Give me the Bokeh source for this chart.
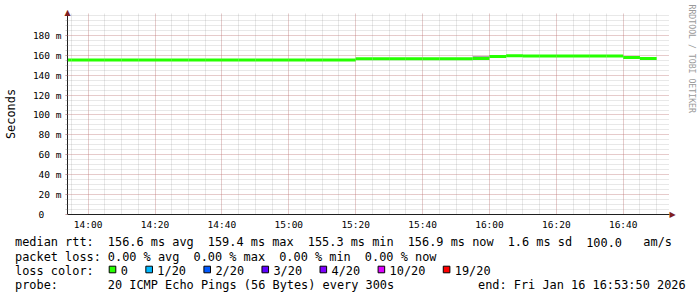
import datetime as dt
from math import pi

from bokeh.plotting import figure
from bokeh.layouts import column
from bokeh.models import (FixedTicker, Label, ColumnDataSource, Range1d,
                          DatetimeTickFormatter)
from bokeh.core.properties import value
from bokeh.embed import file_html
from bokeh.resources import INLINE

# ---------------- data ----------------
DAY = (2026, 1, 16)
STEP_S = 300  # every 300s

bucket_start = ["13:50", "13:55",
                "14:00", "14:05", "14:10", "14:15", "14:20", "14:25",
                "14:30", "14:35", "14:40", "14:45", "14:50", "14:55",
                "15:00", "15:05", "15:10", "15:15", "15:20", "15:25",
                "15:30", "15:35", "15:40", "15:45", "15:50", "15:55",
                "16:00", "16:05", "16:10", "16:15", "16:20", "16:25",
                "16:30", "16:35", "16:40", "16:45"]
median_ms = [155.3, 155.3,
             155.3, 155.3, 155.3, 155.3, 155.3, 155.3,
             155.3, 155.3, 155.3, 155.3, 155.3, 155.3,
             155.3, 155.3, 155.3, 155.3, 156.4, 156.6,
             156.6, 156.6, 156.6, 156.6, 156.6, 156.7,
             158.9, 159.6, 159.4, 159.4, 159.4, 159.2,
             159.2, 159.2, 157.9, 156.9]

smoke_start = ["15:55"]
smoke_low_ms = [158.2]
smoke_high_ms = [159.2]

range_start = "13:53:50"
range_end = "16:53:50"

x_tick_labels = ["14:00", "14:20", "14:40", "15:00", "15:20", "15:40",
                 "16:00", "16:20", "16:40"]
y_tick_values = [0, 20, 40, 60, 80, 100, 120, 140, 160, 180]
y_tick_labels = ["0\u00a0\u00a0\u00a0", "20 m", "40 m", "60 m", "80 m",
                 "100 m", "120 m", "140 m", "160 m", "180 m"]
y_top_ms = 202

loss_labels = ["0", "1/20", "2/20", "3/20", "4/20", "10/20", "19/20"]
loss_colors = ["#26ff00", "#00b8ff", "#0059ff", "#5e00ff", "#7e00ff",
               "#dd00ff", "#ff0000"]

legend_rows = [
    [("median rtt:", 0), ("156.6 ms avg", 13), ("159.4 ms max", 27),
     ("155.3 ms min", 41), ("156.9 ms now", 55), ("1.6 ms sd", 69),
     ("100.0", 80), ("am/s", 88)],
    [("packet loss:", 0), ("0.00 % avg", 13), ("0.00 % max", 25),
     ("0.00 % min", 37), ("0.00 % now", 49)],
    [("loss color:", 0)],
    [("probe:", 0), ("20 ICMP Echo Pings (56 Bytes) every 300s", 13)],
]
end_text = "end: Fri Jan 16 16:53:50 2026"
watermark = "RRDTOOL / TOBI OETIKER"


def t(hm):
    parts = [int(v) for v in hm.split(":")]
    while len(parts) < 3:
        parts.append(0)
    return dt.datetime(*DAY, *parts)


def ms(d):
    return (d - dt.datetime(1970, 1, 1)).total_seconds() * 1000.0


x0 = [t(s) for s in bucket_start]
x1 = [d + dt.timedelta(seconds=STEP_S) for d in x0]

# ---------------- layout constants ----------------
W, H = 697, 297
L, R, T, B = 67, 669, 13, 215   # frame edges on canvas
H1 = 232                        # height of the chart part
MONO = "DejaVu Sans Mono"
FS = "11.9px"
CW = 7.14
TX0 = 14.5
ROW_BASE = [244.7, 259.0, 273.3, 287.6]
TEXT_SHIFT = 3.0                # text glyphs render slightly low
AXIS_COL = "#1f1f1f"
ARROW_COL = "#801f1f"

p = figure(width=W, height=H1, x_axis_type="datetime",
           output_backend="svg", toolbar_location=None,
           x_range=Range1d(t(range_start), t(range_end)),
           y_range=Range1d(0, y_top_ms),
           min_border_left=L, min_border_right=W - R,
           min_border_top=T, min_border_bottom=H1 - B)
p.frame_align = False
p.outline_line_color = None
p.background_fill_color = "white"
p.border_fill_color = "white"

# ticks & grid
x_major = [ms(t(s)) for s in x_tick_labels]
x_minor = [ms(d) for d in x0] + [ms(x1[-1])]
p.xaxis.ticker = FixedTicker(ticks=x_major, minor_ticks=x_minor)
p.xaxis.formatter = DatetimeTickFormatter(minutes="%H:%M", hourmin="%H:%M",
                                          hours="%H:%M", minsec="%H:%M")
p.yaxis.ticker = FixedTicker(ticks=y_tick_values,
                             minor_ticks=list(range(0, y_top_ms + 1, 5)))
p.yaxis.major_label_overrides = {v: s for v, s in zip(y_tick_values, y_tick_labels)}

for ax in (p.xaxis, p.yaxis):
    ax.axis_line_color = AXIS_COL
    ax.axis_line_width = 1
    ax.major_label_text_font = MONO
    ax.major_label_text_font_size = "9.5px"
    ax.major_label_text_color = "black"

p.xaxis.major_tick_line_color = None
p.xaxis.minor_tick_line_color = None
p.xaxis.major_tick_out = 0
p.xaxis.major_tick_in = 0
p.xaxis.minor_tick_out = 0
p.xaxis.minor_tick_in = 0
p.xaxis.major_label_standoff = 4

p.yaxis.major_tick_out = 2
p.yaxis.major_tick_in = 0
p.yaxis.minor_tick_out = 2
p.yaxis.minor_tick_in = 0
p.yaxis.major_tick_line_color = (222, 79, 79, 0.5)
p.yaxis.minor_tick_line_color = (143, 143, 143, 0.45)
p.yaxis.major_label_standoff = 4
p.yaxis.axis_label = "Seconds"
p.yaxis.axis_label_text_font = MONO
p.yaxis.axis_label_text_font_size = FS
p.yaxis.axis_label_text_font_style = "normal"
p.yaxis.axis_label_text_color = "black"
p.yaxis.axis_label_standoff = 12

for g in (p.xgrid, p.ygrid):
    g.grid_line_color = (222, 79, 79)
    g.grid_line_alpha = 0.38
    g.grid_line_dash = "1 1"
    g.minor_grid_line_color = (143, 143, 143)
    g.minor_grid_line_alpha = 0.4
    g.minor_grid_line_dash = "1 1"

# smoke
p.quad(left=[t(s) for s in smoke_start],
       right=[t(s) + dt.timedelta(seconds=STEP_S) for s in smoke_start],
       bottom=smoke_low_ms, top=smoke_high_ms,
       fill_color="#a8a8a8", line_color=None)

# median line
src = ColumnDataSource(dict(x0=x0, x1=x1, y=median_ms))
p.segment(x0="x0", y0="y", x1="x1", y1="y", source=src,
          line_color=loss_colors[0], line_width=3, line_cap="butt")

# axis arrow heads (side panels, so they are not clipped to the frame)
p.add_layout(Label(x=0, y=1, x_units="screen", y_units="screen", text="\u25b2",
                   text_align="center", text_baseline="alphabetic",
                   text_font="DejaVu Sans", text_font_size="8px",
                   text_color=ARROW_COL), "above")
p.add_layout(Label(x=0, y=0, x_units="screen", y_units="screen", text="\u25b6",
                   text_align="left", text_baseline="middle",
                   text_font="DejaVu Sans", text_font_size="8px",
                   text_color=ARROW_COL), "right")

# watermark
p.add_layout(Label(x=16, y=B - 5, x_units="screen", y_units="screen",
                   text=watermark, angle=-pi / 2, text_align="left",
                   text_baseline="middle", text_font=MONO,
                   text_font_size="8.2px", text_color="#9a9a9a"), "right")

# ---------------- legend part (pixel coordinates, y downward) ----------------
H2 = H - H1
q = figure(width=W, height=H2, output_backend="svg", toolbar_location=None,
           x_range=Range1d(0, W), y_range=Range1d(H, H1),
           min_border_left=0, min_border_right=0, min_border_top=0,
           min_border_bottom=0, x_axis_location=None, y_axis_location=None)
q.frame_align = False
q.grid.visible = False
q.outline_line_color = None
q.background_fill_color = "white"
q.border_fill_color = "white"

tx, ty, tt = [], [], []
for row, yb in zip(legend_rows, ROW_BASE):
    for txt, col in row:
        tx.append(TX0 + col * CW)
        ty.append(yb - TEXT_SHIFT)
        tt.append(txt)
tx.append(477.5)
ty.append(ROW_BASE[3] - TEXT_SHIFT)
tt.append(end_text)
q.text(x=tx, y=ty, text=tt, text_font=value(MONO), text_font_size=value(FS),
       text_baseline="alphabetic", text_align="left", text_color="black")

# loss colour swatches laid out like rrdtool's legend
SW, GAP_IN, GAP_OUT = 6.6, 11.5, 18.0
cur = 108.7
sw_left, lab_x = [], []
for name in loss_labels:
    sw_left.append(cur)
    lab_x.append(cur + GAP_IN)
    cur = cur + GAP_IN + len(name) * CW + GAP_OUT
sy = ROW_BASE[2] - 4.3
q.quad(left=sw_left, right=[v + SW for v in sw_left],
       top=[sy - SW / 2] * len(sw_left), bottom=[sy + SW / 2] * len(sw_left),
       fill_color=loss_colors, line_color="black", line_width=1)
q.text(x=lab_x, y=[ROW_BASE[2] - TEXT_SHIFT] * len(lab_x), text=loss_labels,
       text_font=value(MONO), text_font_size=value(FS),
       text_baseline="alphabetic", text_align="left", text_color="black")

open("out.html", "w").write(file_html(column(p, q, spacing=0), INLINE))
